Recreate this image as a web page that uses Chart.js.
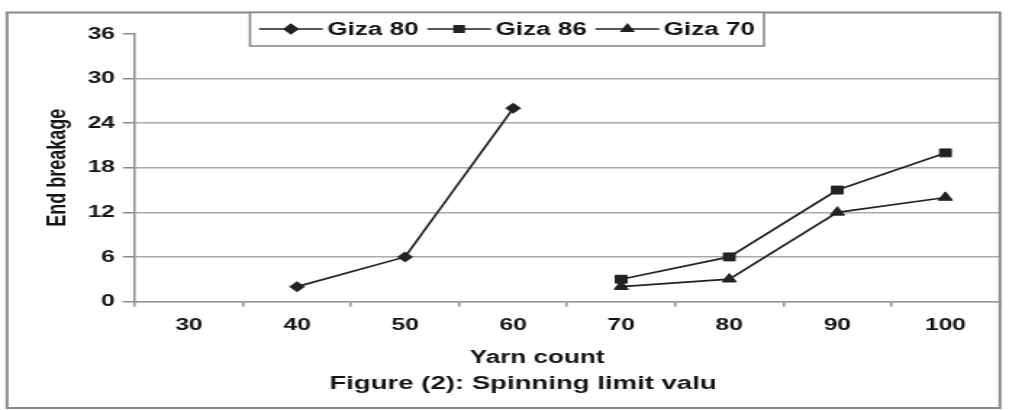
<!DOCTYPE html>
<html>
<head>
<meta charset="utf-8">
<title>Spinning limit</title>
<script src="https://cdn.jsdelivr.net/npm/chart.js@4.4.1/dist/chart.umd.min.js"></script>
<style>
  html, body { margin: 0; padding: 0; background: #fff; overflow: hidden; }
  #wrap { width: 1009px; height: 410px; overflow: hidden; }
</style>
</head>
<body>
<div id="wrap">
  <!-- the scanned figure is stretched sideways, so the canvas is drawn narrow and widened by css -->
  <canvas id="spinChart" width="696" height="410" style="width:1009px;height:410px"></canvas>
</div>
<script>
const yarnCounts = ['30', '40', '50', '60', '70', '80', '90', '100'];
const giza80 = [null, 2, 6, 26, null, null, null, null];
const giza86 = [null, null, null, null, 3, 6, 15, 20];
const giza70 = [null, null, null, null, 2, 3, 12, 14];
const yMin = 0;
const yMax = 36;
const yStep = 6;

const FONT = "'Liberation Sans', Arial, Helvetica, sans-serif";
const INK = '#151515';
const LINE = '#222222';
const SX = 696 / 1009; // reference px -> canvas px, horizontal only

function drawMarker(ctx, style, x, y, r) {
  if (Chart.helpers && Chart.helpers.drawPoint) {
    Chart.helpers.drawPoint(ctx, { pointStyle: style, radius: r, borderWidth: 1 }, x, y);
    return;
  }
  ctx.beginPath();
  if (style === 'rectRot') {
    ctx.moveTo(x, y - r); ctx.lineTo(x + r, y); ctx.lineTo(x, y + r); ctx.lineTo(x - r, y);
  } else if (style === 'rect') {
    const s = r * Math.SQRT1_2;
    ctx.rect(x - s, y - s, 2 * s, 2 * s);
  } else {
    ctx.moveTo(x, y - r); ctx.lineTo(x + r * 0.866, y + r / 2); ctx.lineTo(x - r * 0.866, y + r / 2);
  }
  ctx.closePath();
  ctx.fill();
  ctx.stroke();
}

const figurePlugin = {
  id: 'figure',
  afterDraw(chart) {
    const ctx = chart.ctx;
    ctx.save();

    // outer frame
    ctx.strokeStyle = '#8a8a8a';
    ctx.lineWidth = 2;
    ctx.strokeRect(7 * SX, 12.5, (1000 - 7) * SX, 408 - 12.5);

    // axis title + caption
    ctx.fillStyle = INK;
    ctx.textAlign = 'center';
    ctx.textBaseline = 'alphabetic';
    ctx.font = `bold 18px ${FONT}`;
    ctx.fillText('Yarn count', 537 * SX, 363);
    ctx.font = `bold 19px ${FONT}`;
    ctx.fillText('Figure (2): Spinning limit valu', 523 * SX, 389);

    // legend box
    const boxL = 250 * SX, boxR = 764 * SX, boxT = 12.5, boxB = 46;
    ctx.fillStyle = '#ffffff';
    ctx.fillRect(boxL, boxT, boxR - boxL, boxB - boxT);
    ctx.strokeStyle = '#8a8a8a';
    ctx.lineWidth = 1.6;
    ctx.strokeRect(boxL, boxT, boxR - boxL, boxB - boxT);

    ctx.font = `bold 18px ${FONT}`;
    const lineLen = 44, gapText = 3, gapNext = 6;
    const items = chart.data.datasets.map(ds => ({
      label: ds.label, style: ds.pointStyle, w: ctx.measureText(ds.label).width
    }));
    const total = items.reduce((s, it) => s + lineLen + gapText + it.w, 0) + gapNext * (items.length - 1);
    let x = (boxL + boxR) / 2 - total / 2;
    const ly = 29;
    items.forEach(it => {
      ctx.strokeStyle = LINE;
      ctx.fillStyle = LINE;
      ctx.lineWidth = 1.6;
      ctx.beginPath();
      ctx.moveTo(x, ly);
      ctx.lineTo(x + lineLen, ly);
      ctx.stroke();
      drawMarker(ctx, it.style, x + lineLen / 2, ly, 4.5);
      ctx.fillStyle = INK;
      ctx.textAlign = 'left';
      ctx.textBaseline = 'middle';
      ctx.fillText(it.label, x + lineLen + gapText, ly + 1);
      x += lineLen + gapText + it.w + gapNext;
    });

    ctx.restore();
  }
};

const seriesBase = {
  borderColor: LINE,
  backgroundColor: LINE,
  pointBackgroundColor: LINE,
  pointBorderColor: LINE,
  borderWidth: 1.7,
  pointBorderWidth: 1,
  tension: 0,
  spanGaps: false
};

new Chart(document.getElementById('spinChart'), {
  type: 'line',
  data: {
    labels: yarnCounts,
    datasets: [
      { ...seriesBase, label: 'Giza 80', data: giza80, pointStyle: 'rectRot', pointRadius: 5 },
      { ...seriesBase, label: 'Giza 86', data: giza86, pointStyle: 'rect', pointRadius: 5.6 },
      { ...seriesBase, label: 'Giza 70', data: giza70, pointStyle: 'triangle', pointRadius: 5.6 }
    ]
  },
  options: {
    responsive: false,
    animation: false,
    devicePixelRatio: 1,
    layout: { padding: { top: 34, right: 4, bottom: 0, left: 0 } },
    plugins: {
      legend: { display: false },
      title: { display: false },
      tooltip: { enabled: false }
    },
    scales: {
      x: {
        offset: true,
        grid: {
          offset: true,
          drawOnChartArea: false,
          drawTicks: true,
          tickLength: 5,
          color: '#8c8c8c',
          lineWidth: 1.5
        },
        border: { color: '#9a9a9a', width: 1.5 },
        ticks: {
          color: INK,
          font: { family: FONT, size: 17, weight: 'bold' },
          padding: 9,
          maxRotation: 0,
          autoSkip: false
        },
        afterFit: s => { s.height = 108.5; }
      },
      y: {
        min: yMin,
        max: yMax,
        ticks: {
          stepSize: yStep,
          color: INK,
          font: { family: FONT, size: 17, weight: 'bold' },
          padding: 5.5
        },
        grid: {
          color: c => (c.tick && c.tick.value === yMax) ? 'rgba(0,0,0,0)' : '#a9a9a9',
          tickColor: '#8c8c8c',
          tickLength: 8.3,
          lineWidth: 1.5
        },
        border: { color: '#8c8c8c', width: 1.5 },
        title: {
          display: true,
          text: 'End breakage',
          color: INK,
          font: { family: FONT, size: 18, weight: 'bold' },
          padding: { top: 29, bottom: 0 }
        },
        afterFit: s => { s.width = 93.1; }
      }
    }
  },
  plugins: [figurePlugin]
});
</script>
</body>
</html>
